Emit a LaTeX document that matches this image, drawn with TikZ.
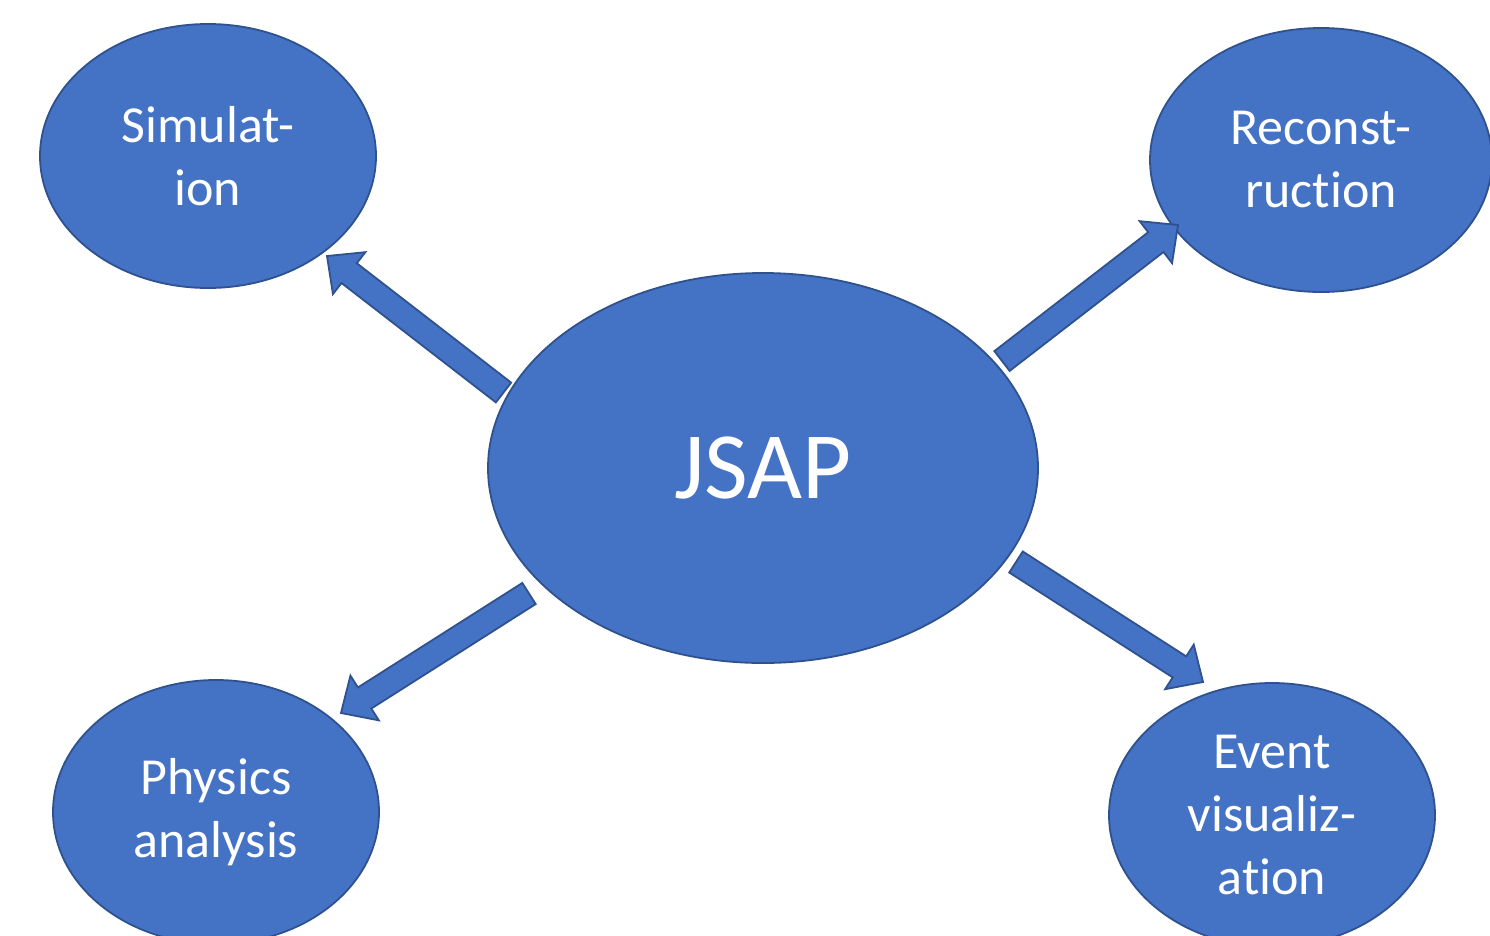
\documentclass[tikz,border=0pt]{standalone}
\usepackage{fontspec}
\setmainfont{Carlito}[Ligatures={NoCommon,NoContextual}]
\usetikzlibrary{shapes.geometric,calc}
\definecolor{bfill}{HTML}{4472C4}
\definecolor{bline}{HTML}{2F528F}
\tikzset{
  bubble/.style={ellipse, draw=bline, fill=bfill, line width=1.8pt, text=white,
    align=center, inner sep=0pt, font=\fontsize{52}{63}\selectfont},
  blockarr/.style={draw=bline, fill=bfill, line width=1.8pt, line join=miter},
}
\newcommand\blkarrow[2]{%
  \coordinate (#1b) at ($(#2)!28pt!(#1)$);
  \draw[blockarr] ($(#1)!12.5pt!90:(#2)$) -- ($(#1b)!12.5pt!90:(#2)$)
    -- ($(#1b)!26.5pt!90:(#2)$) -- (#2) -- ($(#1b)!26.5pt!-90:(#2)$)
    -- ($(#1b)!12.5pt!-90:(#2)$) -- ($(#1)!12.5pt!-90:(#2)$) -- cycle;}
\begin{document}
\begin{tikzpicture}[x=1pt,y=-1pt]
\fill[white] (0,0) rectangle (1490,935);
\clip (0,0) rectangle (1490,935);
\node[bubble, minimum width=550pt, minimum height=390pt, font=\fontsize{95}{110}\selectfont] (jsap) at (763,468) {JSAP};
\node[bubble, minimum width=336pt, minimum height=264pt] (sim) at (208,156) {Simulat-\\ion};
\node[bubble, minimum width=342pt, minimum height=264pt] (rec) at (1321,160) {Reconst-\\ruction};
\node[bubble, minimum width=326pt, minimum height=264pt] (phy) at (216,812) {\raisebox{-4pt}{Physics}\\\raisebox{-4pt}{analysis}};
\node[bubble, minimum width=326pt, minimum height=264pt] (evt) at (1272,815) {Event\\visualiz-\\ation};
\coordinate (t1) at (503.5,392.5); \coordinate (h1) at (327,256);
\coordinate (t2) at (1002,361);   \coordinate (h2) at (1178,225);
\coordinate (t3) at (529,593.5);  \coordinate (h3) at (341,713);
\coordinate (t4) at (1016,562);   \coordinate (h4) at (1203,682);
\blkarrow{t1}{h1}
\blkarrow{t2}{h2}
\blkarrow{t3}{h3}
\blkarrow{t4}{h4}
\end{tikzpicture}
\end{document}
